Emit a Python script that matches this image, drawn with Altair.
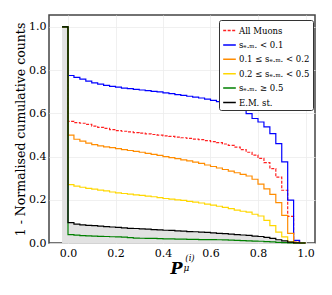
import altair as alt
import pandas as pd

# bin edges: first bin [-0.025, 0], then 40 bins of width 0.025 up to 1.0
bin_width = 0.025
n_bins = 40

series_names = ["All Muons", "sₑ.ₘ. < 0.1", "0.1 ≤ sₑ.ₘ. < 0.2",
                "0.2 ≤ sₑ.ₘ. < 0.5", "sₑ.ₘ. ≥ 0.5", "E.M. st."]
series_colors = ["#ff2020", "#0000ff", "#ff8c00", "#ffd700", "#008000", "#000000"]

all_muons = [0.563, 0.557, 0.554, 0.549, 0.541, 0.535, 0.530, 0.525, 0.520, 0.517,
             0.514, 0.511, 0.508, 0.505, 0.502, 0.499, 0.496, 0.493, 0.490, 0.487,
             0.484, 0.481, 0.478, 0.474, 0.469, 0.464, 0.458, 0.452, 0.444, 0.432,
             0.420, 0.407, 0.392, 0.372, 0.344, 0.305, 0.244, 0.123, 0.010, 0.0]
sem_lt_01 = [0.775, 0.766, 0.758, 0.749, 0.741, 0.735, 0.729, 0.725, 0.721, 0.717,
             0.714, 0.711, 0.708, 0.705, 0.702, 0.699, 0.695, 0.691, 0.687, 0.683,
             0.679, 0.675, 0.671, 0.666, 0.660, 0.654, 0.647, 0.640, 0.630, 0.614,
             0.599, 0.576, 0.560, 0.537, 0.506, 0.460, 0.375, 0.198, 0.012, 0.0]
sem_01_02 = [0.499, 0.480, 0.471, 0.462, 0.455, 0.449, 0.445, 0.441, 0.437, 0.432,
             0.428, 0.424, 0.420, 0.415, 0.410, 0.405, 0.400, 0.395, 0.390, 0.385,
             0.380, 0.374, 0.368, 0.361, 0.354, 0.347, 0.340, 0.333, 0.325, 0.318,
             0.310, 0.295, 0.272, 0.250, 0.225, 0.187, 0.128, 0.045, 0.003, 0.0]
sem_02_05 = [0.270, 0.263, 0.258, 0.253, 0.249, 0.245, 0.241, 0.236, 0.232, 0.229,
             0.226, 0.223, 0.220, 0.217, 0.214, 0.210, 0.206, 0.203, 0.200, 0.197,
             0.193, 0.189, 0.185, 0.180, 0.175, 0.170, 0.165, 0.159, 0.152, 0.147,
             0.143, 0.133, 0.125, 0.105, 0.080, 0.050, 0.028, 0.005, 0.0, 0.0]
sem_ge_05 = [0.039, 0.036, 0.034, 0.033, 0.032, 0.031, 0.030, 0.029, 0.028, 0.027,
             0.025, 0.023, 0.022, 0.021, 0.021, 0.020, 0.019, 0.019, 0.018, 0.018,
             0.017, 0.017, 0.016, 0.016, 0.016, 0.015, 0.014, 0.013, 0.012, 0.011,
             0.010, 0.009, 0.008, 0.006, 0.005, 0.003, 0.002, 0.001, 0.0, 0.0]
em_showers = [0.094, 0.087, 0.084, 0.082, 0.080, 0.078, 0.076, 0.074, 0.072, 0.070,
              0.068, 0.067, 0.065, 0.064, 0.062, 0.061, 0.059, 0.058, 0.056, 0.055,
              0.053, 0.052, 0.050, 0.049, 0.047, 0.045, 0.043, 0.041, 0.039, 0.037,
              0.035, 0.032, 0.030, 0.026, 0.021, 0.015, 0.010, 0.004, 0.001, 0.0]

first_bin_value = 1.0
x_ticks = [0.0, 0.2, 0.4, 0.6, 0.8, 1.0]
y_ticks = [0.0, 0.2, 0.4, 0.6, 0.8, 1.0]

series_values = [all_muons, sem_lt_01, sem_01_02, sem_02_05, sem_ge_05, em_showers]


def step_rows(name, vals):
    full = [first_bin_value] + vals
    rows = []
    for i, v in enumerate(full):
        rows.append({"series": name, "x": -bin_width + i * bin_width, "y": v})
    rows.append({"series": name, "x": -bin_width + len(full) * bin_width, "y": full[-1]})
    return rows


rows = []
for nm, vals in zip(series_names, series_values):
    rows += step_rows(nm, vals)
df = pd.DataFrame(rows)
df_em = df[df.series == "E.M. st."]

FONT = "DejaVu Serif"

xscale = alt.Scale(domain=[-0.08, 1.04], nice=False, zero=False)
yscale = alt.Scale(domain=[0, 1.055], nice=False)

fill = alt.Chart(df_em).mark_area(interpolate="step-after", color="#e2e2e2").encode(
    x=alt.X("x:Q", scale=xscale,
            axis=alt.Axis(values=x_ticks, format=".1f", title="P",
                          titleFont=FONT, labelFont=FONT,
                          titleFontStyle="italic", titleFontWeight="bold",
                          titleFontSize=16, titleX=127, titleY=30,
                          titleBaseline="alphabetic", titleAlign="center",
                          labelFontSize=11, labelPadding=4, tickSize=0,
                          domain=False, gridColor="#ececec", gridWidth=0.8)),
    y=alt.Y("y:Q", scale=yscale,
            axis=alt.Axis(values=y_ticks, format=".1f",
                          title="1 - Normalised cumulative counts",
                          titleFont=FONT, labelFont=FONT,
                          titleFontSize=12.5, titleFontWeight="normal",
                          titleX=-29, titleY=114, titleAngle=270,
                          titleAlign="center", titleBaseline="middle",
                          labelFontSize=11, labelPadding=3, tickSize=0,
                          domain=False, gridColor="#ececec", gridWidth=0.8)),
)

lines = alt.Chart(df).mark_line(interpolate="step-after", strokeWidth=1.2).encode(
    x="x:Q",
    y="y:Q",
    color=alt.Color("series:N",
                    scale=alt.Scale(domain=series_names, range=series_colors),
                    legend=alt.Legend(title=None, orient="none", legendX=170, legendY=5,
                                      symbolType="stroke", symbolSize=160,
                                      symbolStrokeWidth=1.5,
                                      labelFontSize=8.5, labelFont=FONT,
                                      rowPadding=2.4, padding=3,
                                      fillColor="white", strokeColor="#333333",
                                      cornerRadius=2, labelOffset=2)),
    strokeDash=alt.StrokeDash("series:N",
                              scale=alt.Scale(domain=series_names,
                                              range=[[3, 1.5], [1, 0], [1, 0], [1, 0], [1, 0], [1, 0]]),
                              legend=None),
)

sup = alt.Chart(pd.DataFrame({"t": ["(i)"]})).mark_text(
    font=FONT, fontStyle="italic", fontSize=8.5, align="center", baseline="alphabetic"
).encode(x=alt.value(141), y=alt.value(246), text="t:N")

sub = alt.Chart(pd.DataFrame({"t": ["μ"]})).mark_text(
    font=FONT, fontStyle="italic", fontSize=9, align="center", baseline="alphabetic"
).encode(x=alt.value(137.5), y=alt.value(256), text="t:N")

chart = alt.layer(fill, lines, sup, sub).properties(
    width=266, height=228,
    padding={"left": 41, "top": 7, "right": 9, "bottom": 40},
    autosize=alt.AutoSizeParams(type="none"),
).configure_view(
    stroke="#444444", strokeWidth=1.5
).configure_axis(labelColor="black", titleColor="black")

chart.save("out.html", embed_options={"renderer": "svg", "actions": False})
